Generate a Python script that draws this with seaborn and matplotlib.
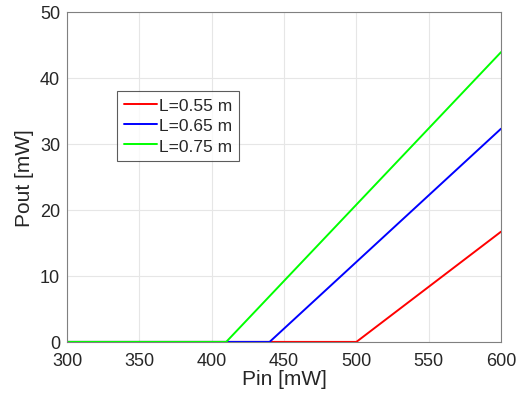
import numpy as np
import pandas as pd
import matplotlib
matplotlib.use('Agg')
import matplotlib.pyplot as plt
import seaborn as sns

# ========== 数据 ==========
labels = ['L=0.55 m', 'L=0.65 m', 'L=0.75 m']
colors = ['#ff0000', '#0000ff', '#00ff00']
pin_start = [300, 300, 300]
thresholds = [500, 440, 410]      # mW, lasing threshold
pin_end = [600, 600, 600]
pout_end = [16.7, 32.3, 43.9]     # mW at Pin=600

rows = []
for lab, p0, th, p1, y1 in zip(labels, pin_start, thresholds, pin_end, pout_end):
    rows.append((lab, p0, 0.0))
    rows.append((lab, th, 0.0))
    rows.append((lab, p1, y1))
df = pd.DataFrame(rows, columns=['label', 'Pin', 'Pout'])

# ========== 绘图 ==========
sns.set_style('white')
plt.rcParams['font.family'] = ['Liberation Sans', 'DejaVu Sans']

fig = plt.figure(figsize=(5.16, 4.02), dpi=100)
ax = fig.add_axes([0.130, 0.147, 0.841, 0.821])

sns.lineplot(data=df, x='Pin', y='Pout', hue='label', hue_order=labels,
             palette=colors, linewidth=1.4, sort=False, estimator=None, ax=ax)

ax.set_xlim(300, 600)
ax.set_ylim(0, 50)
ax.set_xticks(np.arange(300, 601, 50))
ax.set_yticks(np.arange(0, 51, 10))
ax.grid(True, color='#e6e6e6', linewidth=0.8)
ax.set_axisbelow(True)
for s in ax.spines.values():
    s.set_color('#808080')
    s.set_linewidth(0.8)
ax.tick_params(direction='in', length=3, color='#808080', labelsize=13,
               labelcolor='#262626')
ax.tick_params(axis='x', pad=7)
ax.tick_params(axis='y', pad=5)
ax.set_xlabel('Pin [mW]', fontsize=15, color='#262626', labelpad=0)
ax.set_ylabel('Pout [mW]', fontsize=15, color='#262626', labelpad=4)

leg = ax.legend(loc='upper left', bbox_to_anchor=(0.115, 0.761), fontsize=12.5,
                frameon=True, fancybox=False, edgecolor='#333333',
                handlelength=1.9, borderpad=0.4, labelspacing=0.3,
                handletextpad=0.12, borderaxespad=0)
leg.get_frame().set_linewidth(0.8)

fig.savefig('out.png', dpi=100)
